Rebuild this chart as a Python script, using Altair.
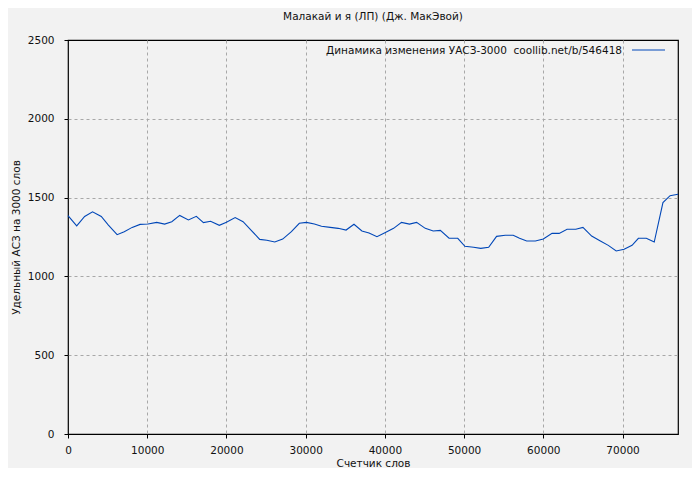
import altair as alt
import pandas as pd

title_text = "Малакай и я (ЛП) (Дж. МакЭвой)"
x_title = "Счетчик слов"
y_title = "Удельный АСЗ на 3000 слов"
legend_label = "Динамика изменения УАСЗ-3000\u00a0 coollib.net/b/546418"

words = [0, 1100, 2100, 3100, 4200, 5100, 6200, 7100, 8100, 9100,
         10100, 11200, 12200, 13100, 14100, 15200, 16200, 17100, 18000, 19100,
         20000, 21100, 22100, 23100, 24200, 25100, 26100, 27100, 28200, 29200,
         30100, 31100, 32000, 33100, 34100, 35100, 36100, 37100, 38000, 39000,
         40000, 41100, 42100, 43100, 44000, 45100, 46100, 47000, 48100, 49200,
         50100, 51200, 52100, 53100, 54100, 55200, 56200, 57000, 57900, 59000,
         60000, 61100, 62000, 63000, 64100, 65000, 66100, 67200, 68200, 69200,
         70200, 71200, 72000, 73000, 74000, 75100, 76000, 77000]
values = [1385, 1320, 1380, 1410, 1380, 1326, 1265, 1284, 1311, 1330,
          1332, 1343, 1332, 1347, 1387, 1358, 1381, 1341, 1350, 1324,
          1343, 1373, 1347, 1294, 1235, 1229, 1218, 1237, 1284, 1337,
          1343, 1332, 1318, 1311, 1305, 1294, 1331, 1288, 1276, 1252,
          1277, 1305, 1343, 1332, 1343, 1305, 1288, 1292, 1242, 1242,
          1191, 1185, 1178, 1185, 1254, 1261, 1261, 1242, 1225, 1225,
          1237, 1273, 1273, 1299, 1299, 1311, 1256, 1225, 1197, 1161,
          1172, 1197, 1242, 1242, 1218, 1468, 1512, 1521]

x_ticks = [0, 10000, 20000, 30000, 40000, 50000, 60000, 70000]
y_ticks = [0, 500, 1000, 1500, 2000, 2500]

df = pd.DataFrame({"words": words, "value": values})

FONT = "DejaVu Sans"
LINE_COLOR = "#0047b8"
GRID = "#a8a8a8"

x_grid_color = {"condition": {"test": "datum.value == 0", "value": "transparent"},
                "value": GRID}
y_grid_color = {"condition": {"test": "datum.value == 0 || datum.value == 2500",
                              "value": "transparent"},
                "value": GRID}

line = alt.Chart(df).mark_line(color=LINE_COLOR, strokeWidth=1.1).encode(
    x=alt.X("words:Q",
            scale=alt.Scale(domain=[0, 77000], nice=False, zero=False),
            axis=alt.Axis(values=x_ticks, title=x_title, format="d",
                          grid=True, gridColor=x_grid_color, gridDash=[3, 3],
                          domain=False, tickColor="#000", tickSize=4,
                          labelFlush=False, labelOverlap=False,
                          labelPadding=7, titlePadding=3,
                          labelFont=FONT, labelFontSize=10.5, labelColor="#111",
                          titleFont=FONT, titleFontSize=10.5, titleFontWeight="normal",
                          titleColor="#111")),
    y=alt.Y("value:Q",
            scale=alt.Scale(domain=[0, 2500], nice=False),
            axis=alt.Axis(values=y_ticks, title=y_title, format="d",
                          grid=True, gridColor=y_grid_color, gridDash=[3, 3],
                          domain=False, tickColor="#000", tickSize=4,
                          labelFlush=False, labelOverlap=False,
                          labelPadding=10, titlePadding=6,
                          labelFont=FONT, labelFontSize=10.5, labelColor="#111",
                          titleFont=FONT, titleFontSize=10.5, titleFontWeight="normal",
                          titleColor="#111")),
)

legend_df = pd.DataFrame({"label": [legend_label]})
legend_text = alt.Chart(legend_df).mark_text(
    align="right", baseline="middle", font=FONT, fontSize=10.5, color="#111"
).encode(x=alt.value(554), y=alt.value(11), text="label:N")
legend_line = alt.Chart(legend_df).mark_rule(color=LINE_COLOR, strokeWidth=1.1).encode(
    x=alt.value(564), x2=alt.value(597), y=alt.value(10)
)

chart = alt.layer(line, legend_text, legend_line).properties(
    width=610, height=394,
    title=alt.TitleParams(title_text, font=FONT, fontSize=10.5, fontWeight="normal",
                          color="#111", anchor="middle", offset=13),
    autosize=alt.AutoSizeParams(type="none"),
    padding={"left": 60, "top": 32, "right": 14, "bottom": 34},
    background="#f2f2f2",
).configure_view(stroke="#000", strokeWidth=1.2)

chart.save("out.html", embed_options={"renderer": "svg", "actions": False})
